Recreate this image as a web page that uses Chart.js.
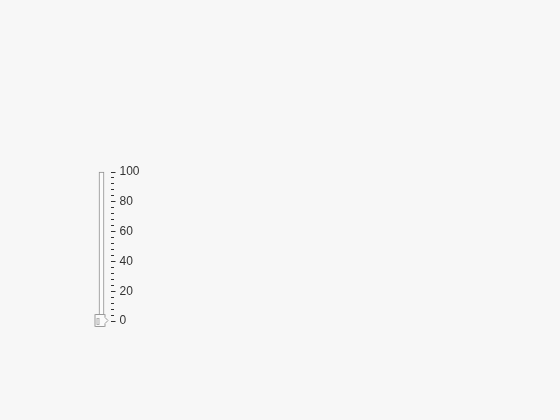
<!DOCTYPE html>
<html>
<head>
	<meta charset="utf-8">
	<title>Linear Gauge</title>
	<script src="https://cdn.jsdelivr.net/npm/chart.js@4.4.0/dist/chart.umd.min.js"></script>
	<style>
		html, body { margin: 0; padding: 0; background: #f7f7f7; }
		#wrap { width: 560px; height: 420px; }
	</style>
</head>
<body>

	<div id="wrap"><canvas id="gauge" width="560" height="420"></canvas></div>

	<script type="text/javascript">

		// gauge data
		const categories = [''];
		const gaugeRange = [0, 100];
		const gaugeValue = [0];
		const majorStep = 20;
		const minorStep = 4;

		// pointer drawn as a small canvas, used as point style
		function makePointer(){
			const c = document.createElement('canvas');
			c.width = 16;
			c.height = 16;
			const g = c.getContext('2d');
			g.translate(8, 8);
			g.beginPath();
			g.moveTo(-6.5, -6.5);
			g.lineTo(3.5, -6.5);
			g.lineTo(3.5, -3.5);
			g.lineTo(6.5, -0.5);
			g.lineTo(3.5, 2.5);
			g.lineTo(3.5, 5.5);
			g.lineTo(-6.5, 5.5);
			g.closePath();
			g.fillStyle = '#fafafa';
			g.fill();
			g.strokeStyle = '#999';
			g.lineWidth = 1;
			g.stroke();
			g.strokeStyle = '#b0b0b0';
			g.strokeRect(-4.5, -2.5, 2, 6);
			return c;
		}

		const ctx = document.getElementById('gauge').getContext('2d');

		const gauge = new Chart(ctx, {
			type: 'bar',
			data: {
				labels: categories,
				datasets: [{
					type: 'line',
					data: gaugeValue,
					showLine: false,
					pointStyle: makePointer(),
					clip: false,
					order: 0
				}, {
					data: [gaugeRange],
					backgroundColor: '#fbfbfb',
					borderColor: '#8e8e8e',
					borderWidth: 1,
					borderSkipped: false,
					barThickness: 5,
					grouped: false,
					clip: false,
					order: 2
				}]
			},
			options: {
				responsive: false,
				animation: false,
				events: [],
				layout: {
					padding: { left: 92.5, top: 172, right: 409.5, bottom: 99 }
				},
				plugins: {
					legend: { display: false },
					tooltip: { enabled: false }
				},
				scales: {
					x: { display: false },
					y: {
						position: 'right',
						min: gaugeRange[0],
						max: gaugeRange[1],
						afterFit: function(scale){ scale.width = 40; },
						border: { display: false },
						grid: {
							drawOnChartArea: false,
							tickLength: 5,
							tickColor: '#333',
							tickBorderDash: function(c){
								return c.tick && c.tick.value % majorStep === 0 ? [] : [3, 10];
							}
						},
						ticks: {
							stepSize: minorStep,
							autoSkip: false,
							padding: 4,
							color: '#333',
							font: { family: 'Liberation Sans, Arial, sans-serif', size: 12 },
							callback: function(v){ return v % majorStep === 0 ? v : ''; }
						}
					}
				}
			}
		});

	</script>

</body>
</html>
